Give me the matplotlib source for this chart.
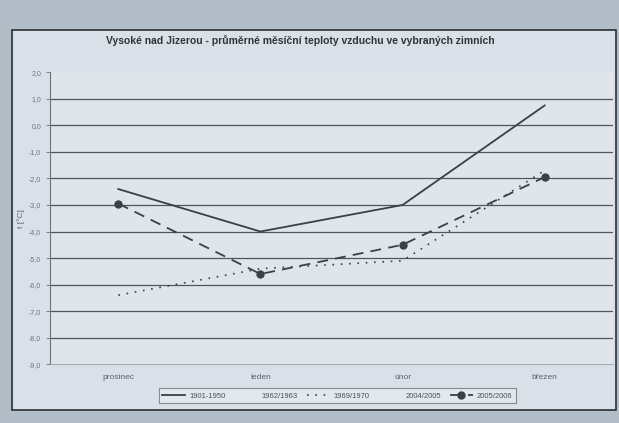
import matplotlib.pyplot as plt
from matplotlib.lines import Line2D
from matplotlib.patches import Rectangle
from matplotlib.ticker import FuncFormatter

plt.rcParams['font.family'] = ['Liberation Sans', 'DejaVu Sans']

# months on the category axis
mesice = ['prosinec', 'leden', 'únor', 'březen']

# mean monthly air temperature [°C]
t_1901_1950 = [-2.4, -4.0, -3.0, 0.75]
t_1969_1970 = [-6.4, -5.4, -5.1, -1.7]
t_2005_2006 = [-2.95, -5.6, -4.5, -1.95]

yticks = [2, 1, 0, -1, -2, -3, -4, -5, -6, -7, -8, -9]

ink = '#3b4046'
fig = plt.figure(figsize=(6.19, 4.23), dpi=100)
fig.patch.set_facecolor('#b3bdc7')

# chart frame (the white-ish sheet in the scan)
fig.patches.append(Rectangle((0.019, 0.031), 0.976, 0.898, transform=fig.transFigure,
                             facecolor='#d9e0e7', edgecolor='#2c3035', linewidth=1.2, zorder=-10))

ax = fig.add_axes([0.081, 0.139, 0.909, 0.690])
ax.set_facecolor('#dfe5eb')

x = list(range(len(mesice)))
ax.plot(x, t_1901_1950, color=ink, lw=1.3, label='1901-1950', zorder=3)
ax.plot(x, t_1969_1970, color=ink, lw=1.2, linestyle=(0, (1.0, 4.0)), label='1969/1970', zorder=3)
ax.plot(x, t_2005_2006, color=ink, lw=1.3, linestyle=(0, (6, 4)), marker='o', markersize=5,
        label='2005/2006', zorder=4)

ax.set_xlim(-0.48, 3.48)
ax.set_ylim(-9, 2)
ax.set_yticks(yticks)
ax.yaxis.set_major_formatter(FuncFormatter(lambda v, p: f'{v:.1f}'.replace('.', ',')))
ax.set_xticks(x)
ax.set_xticklabels(mesice)
ax.tick_params(axis='y', labelsize=5, colors='#6d757d', length=3, width=0.6)
ax.tick_params(axis='x', labelsize=6, colors='#5a6168', length=0, pad=7)
for v in yticks[1:-1]:
    ax.axhline(v, color='#50565c', lw=0.9, zorder=1)

for s in ['top', 'right']:
    ax.spines[s].set_visible(False)
ax.spines['left'].set_color('#6d757d')
ax.spines['left'].set_linewidth(0.8)
ax.spines['bottom'].set_color('#9aa2aa')
ax.spines['bottom'].set_linewidth(0.6)

ax.set_ylabel('t [°C]', fontsize=6, color='#5a6168', labelpad=3)

fig.text(0.485, 0.905, 'Vysoké nad Jizerou - průměrné měsíční teploty vzduchu ve vybraných zimních',
         ha='center', va='center', fontsize=7.5, fontweight='bold', color='#2f3439')

# legend: two seasons have no visible line in the scan
blank = Line2D([], [], color='none')
h = ax.get_legend_handles_labels()[0]
handles = [h[0], blank, h[1], blank, h[2]]
labels = ['1901-1950', '1962/1963', '1969/1970', '2004/2005', '2005/2006']
leg = fig.legend(handles, labels, loc='center', bbox_to_anchor=(0.545, 0.064), ncol=5,
                 fontsize=5.5, frameon=True, fancybox=False, handlelength=3, columnspacing=1.2,
                 handletextpad=0.5, borderpad=0.5)
leg.get_frame().set_edgecolor('#6d757d')
leg.get_frame().set_facecolor('#e6ebf0')
leg.get_frame().set_linewidth(0.8)
for t in leg.get_texts():
    t.set_color('#4a5056')

fig.savefig('out.png', dpi=100, facecolor=fig.get_facecolor())
